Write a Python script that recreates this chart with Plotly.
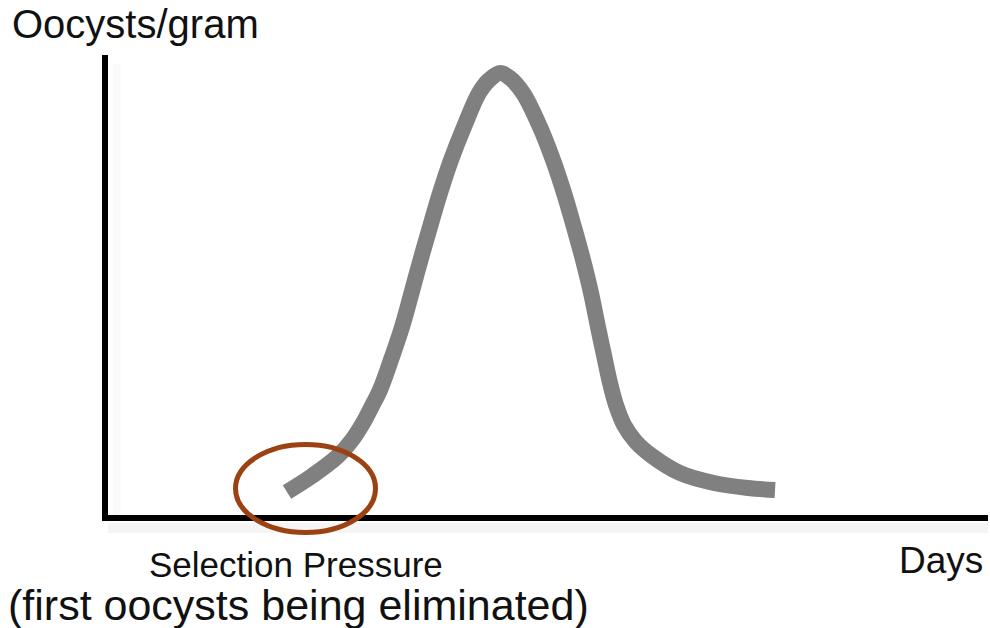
import plotly.graph_objects as go

# Curva de oocistos por gramo (unidades relativas 0-100)
days = [20.34, 23.18, 26.02, 27.73, 28.98, 30.00, 30.91, 32.27, 33.41, 34.49, 35.51, 36.59,
        37.73, 38.98, 40.45, 42.16, 43.30, 44.55,
        45.68, 47.16, 49.09, 50.57, 51.82, 52.95, 53.98, 54.89, 55.68, 56.36, 57.05, 57.73,
        58.64, 60.00, 61.82, 65.00, 68.86, 72.73, 75.80]
oocysts = [5.00, 8.48, 12.61, 16.30, 20.00, 23.70, 27.17, 34.35, 40.87, 48.26, 55.43, 62.61,
           70.00, 77.17, 84.35, 91.74, 94.57, 96.09,
           95.00, 91.74, 84.35, 77.17, 70.00, 62.61, 55.43, 48.26, 40.87, 34.78, 28.70, 23.91,
           19.57, 15.87, 12.83, 9.13, 6.96, 5.87, 5.43]

x_title = 'Days'
y_title = 'Oocysts/gram'
note_line1 = 'Selection Pressure'
note_line2 = '(first oocysts being eliminated)'

FONT = 'Liberation Sans, Arial, Helvetica, sans-serif'

fig = go.Figure(
    data=go.Scatter(
        x=days,
        y=oocysts,
        mode='lines',
        line=dict(color='#808080', width=16, shape='spline', smoothing=1.0, simplify=False),
        hoverinfo='skip',
        showlegend=False
    ),
    layout=go.Layout(
        xaxis=dict(range=[0, 100], showline=True, linecolor='#000000', linewidth=6,
                   showgrid=False, zeroline=False, showticklabels=False, ticks=''),
        yaxis=dict(range=[0, 100], showline=True, linecolor='#000000', linewidth=6,
                   showgrid=False, zeroline=False, showticklabels=False, ticks=''),
        font=dict(family=FONT, color='#111111'),
        plot_bgcolor='#ffffff',
        paper_bgcolor='#ffffff',
        margin=dict(l=108, r=2, t=55, b=113),
        width=990,
        height=628,
    )
)

# sombra suave bajo los ejes
fig.add_shape(type='line', xref='paper', yref='paper', x0=0.0, x1=1.0, y0=-0.028, y1=-0.028,
              line=dict(color='rgba(0,0,0,0.04)', width=10), layer='below')
fig.add_shape(type='line', xref='paper', yref='paper', x0=0.01, x1=0.01, y0=-0.01, y1=0.98,
              line=dict(color='rgba(0,0,0,0.025)', width=8), layer='below')

# elipse de presion de seleccion
fig.add_shape(type='circle', xref='paper', yref='paper',
              x0=0.1449, x1=0.304, y0=-0.038, y1=0.153,
              line=dict(color='#9c4212', width=5), layer='above')

fig.add_annotation(text=y_title, xref='paper', yref='paper', x=-0.111, y=1.067,
                   xanchor='left', yanchor='middle', showarrow=False,
                   font=dict(size=40, family=FONT, color='#111111'))
fig.add_annotation(text=x_title, xref='paper', yref='paper', x=0.9966, y=-0.098,
                   xanchor='right', yanchor='middle', showarrow=False,
                   font=dict(size=37, family=FONT, color='#111111'))
fig.add_annotation(text=note_line1, xref='paper', yref='paper', x=0.2136, y=-0.107,
                   xanchor='center', yanchor='middle', showarrow=False,
                   font=dict(size=35, family=FONT, color='#111111'))
fig.add_annotation(text=note_line2, xref='paper', yref='paper', x=0.217, y=-0.195,
                   xanchor='center', yanchor='middle', showarrow=False,
                   font=dict(size=43, family=FONT, color='#111111'))

# sin margen del body para que la figura ocupe la ventana completa
fig.write_html('out.html', config=dict(displayModeBar=False),
               post_script="document.body.style.margin='0';")
